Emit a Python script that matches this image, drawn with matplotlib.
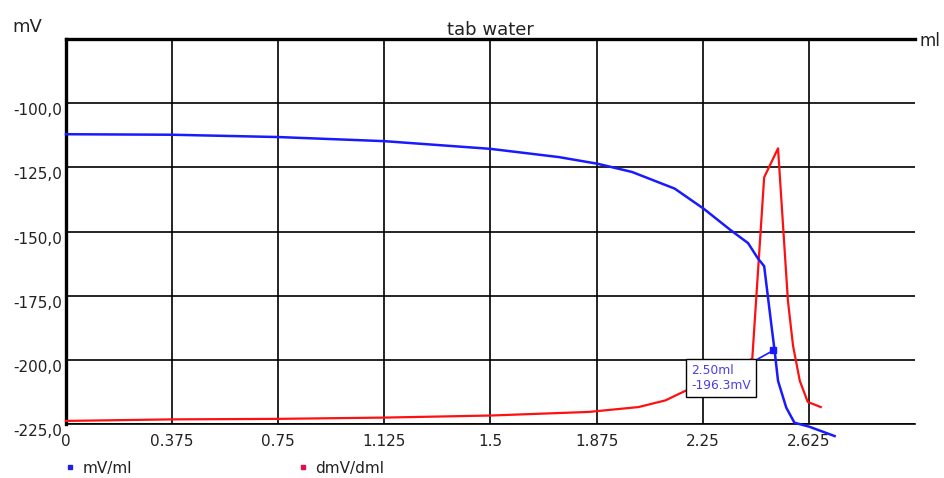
import matplotlib
matplotlib.use("Agg")
import matplotlib.pyplot as plt
from matplotlib.lines import Line2D

# ---- data ----
title = "tab water"
series_names = ["mV/ml", "dmV/dml"]

mv_x = [0.0, 0.375, 0.75, 1.125, 1.5, 1.741, 1.878, 2.0, 2.151, 2.253, 2.35,
        2.41, 2.445, 2.467, 2.492, 2.504, 2.516, 2.545, 2.574, 2.625, 2.716]
mv_y = [-112.1, -112.3, -113.2, -114.8, -117.8, -121.0, -123.6, -126.8, -133.3,
        -141.1, -149.6, -154.5, -160.5, -163.5, -186.0, -196.5, -208.2, -218.6,
        -224.5, -226.0, -229.7]

d_x = [0.0, 0.375, 0.75, 1.125, 1.5, 1.847, 2.023, 2.118, 2.192, 2.425, 2.467,
       2.516, 2.551, 2.569, 2.593, 2.621, 2.667]
d_y = [-223.8, -223.2, -223.0, -222.5, -221.7, -220.3, -218.4, -215.8, -211.9,
       -199.6, -128.9, -117.6, -177.0, -194.5, -208.2, -216.4, -218.4]

x_ticks = [0, 0.375, 0.75, 1.125, 1.5, 1.875, 2.25, 2.625]
x_tick_labels = ["0", "0.375", "0.75", "1.125", "1.5", "1.875", "2.25", "2.625"]
y_ticks = [-225, -200, -175, -150, -125, -100]
y_tick_labels = ["-225,0", "-200,0", "-175,0", "-150,0", "-125,0", "-100,0"]

marker_x = 2.50
marker_y = -196.3
marker_text = "2.50ml\n-196.3mV"

# ---- figure ----
plt.rcParams['font.family'] = ['DejaVu Sans']
fig = plt.figure(figsize=(9.45, 4.78), dpi=100)
ax = fig.add_axes([66/945, 1-424/478, (915-66)/945, (424-39)/478])

ax.set_xlim(0, 3.0)
ax.set_ylim(-225, -75)

ax.spines['right'].set_visible(False)
ax.spines['left'].set_linewidth(2.4)
ax.spines['top'].set_linewidth(2.4)
ax.spines['bottom'].set_linewidth(1.2)
for s in ['left', 'top', 'bottom']:
    ax.spines[s].set_color('black')

ax.set_xticks(x_ticks)
ax.set_xticklabels(x_tick_labels)
ax.set_yticks(y_ticks)
ax.set_yticklabels(y_tick_labels)
ax.tick_params(axis='both', length=0, labelsize=11, colors='#222222')
ax.tick_params(axis='x', pad=7)
ax.tick_params(axis='y', pad=3)
for lab in ax.get_yticklabels():
    lab.set_verticalalignment('top')

ax.grid(True, color='black', linewidth=1.2)
ax.set_axisbelow(True)

ax.plot(d_x, d_y, color='#ff1010', linewidth=1.6, zorder=3, clip_on=False)
ax.plot(mv_x, mv_y, color='#1a1aff', linewidth=1.8, zorder=4, clip_on=False)

ax.plot([marker_x], [marker_y], marker='s', markersize=5, color='#1a1aff', zorder=6)
ax.annotate(marker_text, xy=(marker_x, marker_y), xytext=(-82, -14),
            textcoords='offset pixels', ha='left', va='top', fontsize=8.8,
            color='#4a3ee8', linespacing=1.2, zorder=7,
            bbox=dict(boxstyle='square,pad=0.42', facecolor='white',
                      edgecolor='black', linewidth=1.0),
            arrowprops=dict(arrowstyle='-', color='#1a1aff', linewidth=1.2,
                            relpos=(0.95, 1.0), shrinkA=0, shrinkB=0))

ax.set_title(title, fontsize=13, pad=2, color='#222222')

fig.text(27/945, 1-27/478, "mV", fontsize=13, ha='center', va='center', color='#222222')
fig.text(930/945, 1-41/478, "ml", fontsize=12, ha='center', va='center', color='#222222')

handles = [Line2D([], [], linestyle='none', marker='s', markersize=3.5, color='#2020e0'),
           Line2D([], [], linestyle='none', marker='s', markersize=3.5, color='#e0104a')]
fig.legend(handles, series_names, loc='center left', bbox_to_anchor=(58/945, 1-468/478),
           ncol=2, frameon=False, fontsize=11, handlelength=0.6, handletextpad=0.5,
           columnspacing=10.9, borderpad=0, labelcolor='#222222')

fig.savefig("out.png", dpi=100)
